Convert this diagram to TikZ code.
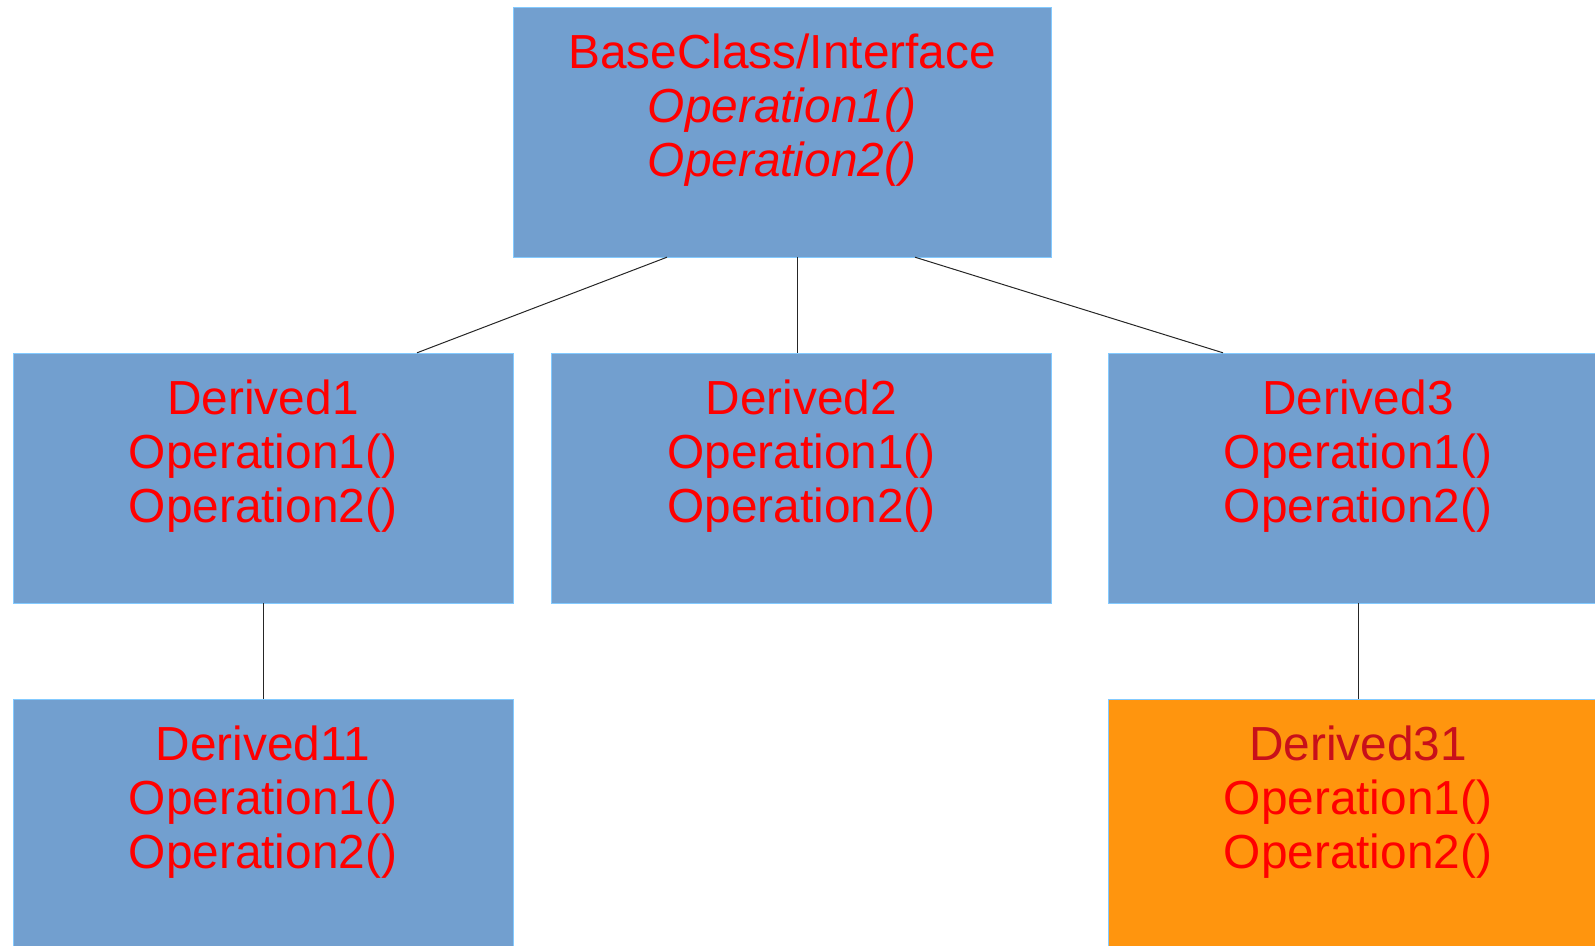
\documentclass[tikz,border=0pt]{standalone}
\usepackage{fontspec}
\setmainfont{Liberation Sans}
\definecolor{boxblue}{HTML}{729FCF}
\definecolor{boxorange}{HTML}{FF950E}
\definecolor{edgeblue}{HTML}{83CAFF}
\definecolor{darkred}{HTML}{C8101A}

\begin{document}
\begin{tikzpicture}[x=1pt, y=-1pt,
  classbox/.style={draw=edgeblue, fill=boxblue, rectangle, align=center, text=red,
    minimum width=500pt, minimum height=250pt, inner sep=0pt,
    font=\fontsize{47.8}{54}\selectfont},
  link/.style={draw=black!85, line width=1pt}]
\useasboundingbox (0,0) rectangle (1595,945);

\node[classbox, minimum width=538pt] (base) at (782,132) {BaseClass/Interface\\{\itshape Operation1()}\\{\itshape Operation2()}\\\mbox{}};
\node[classbox] (derived1) at (263,478) {Derived1\\Operation1()\\Operation2()\\\mbox{}};
\node[classbox] (derived2) at (801.5,478) {Derived2\\Operation1()\\Operation2()\\\mbox{}};
\node[classbox] (derived3) at (1358,478) {Derived3\\Operation1()\\Operation2()\\\mbox{}};
\node[classbox] (derived11) at (263,824) {Derived11\\Operation1()\\Operation2()\\\mbox{}};
\node[classbox, fill=boxorange] (derived31) at (1358,824) {\textcolor{darkred}{Derived31}\\Operation1()\\Operation2()\\\mbox{}};

\draw[link] ([xshift=-115pt]base.south) -- ([xshift=154pt]derived1.north);
\draw[link] ([xshift=-4pt]derived2.north) -- ([xshift=-4pt]derived2.north |- base.south);
\draw[link] ([xshift=133pt]base.south) -- ([xshift=-135pt]derived3.north);
\draw[link] (derived1.south) -- (derived11.north);
\draw[link] (derived3.south) -- (derived31.north);
\end{tikzpicture}
\end{document}
